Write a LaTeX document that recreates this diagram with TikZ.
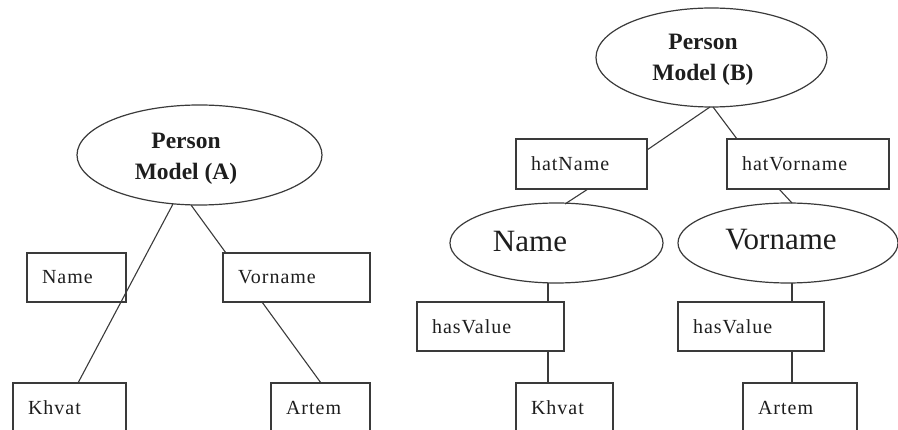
\documentclass[tikz,border=0pt]{standalone}
\usepackage{fontspec}
\setmainfont{Liberation Serif}
\newfontfamily\boxfont[LetterSpace=5]{Liberation Serif}
\usetikzlibrary{shapes.geometric}
\definecolor{ink}{RGB}{58,58,58}
\definecolor{txt}{RGB}{30,30,30}
\begin{document}
\begin{tikzpicture}[x=1pt,y=-1pt,
  every node/.style={text=txt, outer sep=0pt},
  box/.style={draw=ink, line width=1.2pt, rectangle, anchor=north west,
    inner xsep=15pt, inner ysep=0pt, minimum height=49pt, align=left,
    font={\boxfont\fontsize{20}{23}\selectfont}},
  oval/.style={draw=ink, line width=1.2pt, ellipse, inner sep=0pt},
  head/.style={font={\bfseries\fontsize{23.5}{31}\selectfont}, align=center, inner sep=0pt},
  big/.style={font={\fontsize{31}{36}\selectfont}, inner sep=0pt},
  link/.style={draw=ink, line width=1.1pt}]
\useasboundingbox (0,0) rectangle (898,430);
\clip (0,0) rectangle (898,430);

% ---- Person Model (A) ----
\node[oval, minimum width=245pt, minimum height=100pt] (eA) at (199.5,155) {};
\node[head] (tA) at (186,159) {Person\\Model (A)};
\node[box, text width=69pt]  (nL) at (27,253)  {Name};
\node[box, text width=117pt] (vL) at (223,253) {Vorname};
\node[box, text width=83pt]  (kL) at (13,383)  {Khvat};
\node[box, text width=69pt]  (aL) at (271,383) {Artem};

\draw[link] ([xshift=-26.5pt,yshift=1pt]eA.south) -- ([xshift=8.5pt]kL.north);
\draw[link] ([xshift=-8.5pt]eA.south) -- ([xshift=3pt]vL.north west);
\draw[link] ([xshift=39pt]vL.south west) -- ([xshift=50pt]aL.north west);

% ---- Person Model (B) ----
\node[oval, minimum width=231pt, minimum height=99pt] (eB) at (711.5,57.5) {};
\node[head] (tB) at (703,60) {Person\\Model (B)};
\node[box, text width=101pt, minimum height=50pt] (hN) at (516,139) {hatName};
\node[box, text width=132pt, minimum height=50pt] (hV) at (727,139) {hatVorname};
\node[oval, minimum width=213pt, minimum height=80pt] (eN) at (556.5,243) {};
\node[big] (tN) at (530,242) {Name};
\node[oval, minimum width=220pt, minimum height=80pt] (eV) at (788,243) {};
\node[big] (tV) at (781,240) {Vorname};
\node[box, text width=117pt] (hsL) at (417,302) {hasValue};
\node[box, text width=116pt] (hsR) at (678,302) {hasValue};
\node[box, text width=67pt]  (kR) at (516,383) {Khvat};
\node[box, text width=84pt]  (aR) at (743,383) {Artem};

\draw[link] ([xshift=-1.5pt]eB.south) -- ([yshift=-11pt]hN.north east);
\draw[link] ([xshift=1.5pt]eB.south) -- ([xshift=10pt]hV.north west);
\draw[link] ([xshift=72pt]hN.south west) -- ([xshift=8.5pt,yshift=-1pt]eN.north);
\draw[link] ([xshift=52pt]hV.south west) -- ([xshift=4pt]eV.north);
\draw[link] ([xshift=-8.5pt]eN.south) -- ([xshift=131pt]hsL.north west);
\draw[link] ([xshift=131pt]hsL.south west) -- ([xshift=32pt]kR.north west);
\draw[link] ([xshift=4pt]eV.south) -- ([xshift=114pt]hsR.north west);
\draw[link] ([xshift=114pt]hsR.south west) -- ([xshift=49pt]aR.north west);
\end{tikzpicture}
\end{document}
